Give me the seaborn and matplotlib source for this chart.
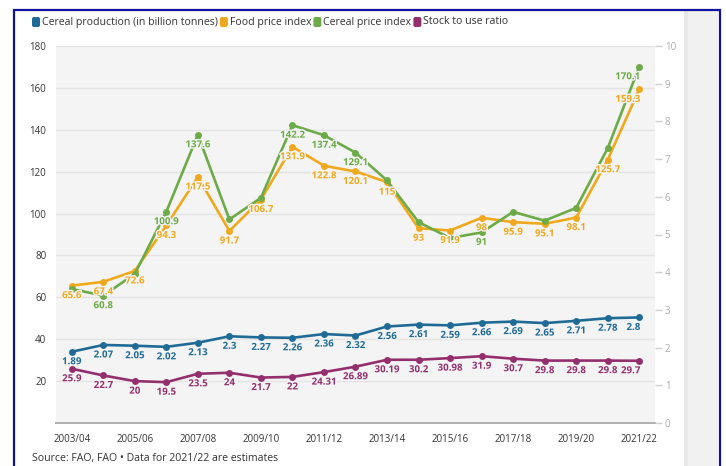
import numpy as np
import pandas as pd
import matplotlib
matplotlib.use("Agg")
import matplotlib.pyplot as plt
import seaborn as sns
from matplotlib.patches import Rectangle, FancyBboxPatch
from matplotlib.transforms import IdentityTransform
import matplotlib.patheffects as pe

seasons = ["2003/04", "2004/05", "2005/06", "2006/07", "2007/08", "2008/09",
           "2009/10", "2010/11", "2011/12", "2012/13", "2013/14", "2014/15",
           "2015/16", "2016/17", "2017/18", "2018/19", "2019/20", "2020/21",
           "2021/22"]
production = [1.89, 2.07, 2.05, 2.02, 2.13, 2.3, 2.27, 2.26, 2.36, 2.32,
              2.56, 2.61, 2.59, 2.66, 2.69, 2.65, 2.71, 2.78, 2.8]
food_index = [65.6, 67.4, 72.6, 94.3, 117.5, 91.7, 106.7, 131.9, 122.8, 120.1,
              115, 93, 91.9, 98, 95.9, 95.1, 98.1, 125.7, 159.3]
cereal_index = [64.0, 60.8, 71.2, 100.9, 137.6, 97.2, 107.5, 142.2, 137.4, 129.1,
                115.8, 95.9, 88.3, 91, 100.8, 96.6, 102.7, 131.2, 170.1]
stock_ratio = [25.9, 22.7, 20, 19.5, 23.5, 24, 21.7, 22, 24.31, 26.89,
               30.19, 30.2, 30.98, 31.9, 30.7, 29.8, 29.8, 29.8, 29.7]
cereal_labelled = [1, 3, 4, 7, 8, 9, 13, 18]
legend_names = ["Cereal production (in billion tonnes)", "Food price index",
                "Cereal price index", "Stock to use ratio"]
source_text = "Source: FAO, FAO \u2022 Data for 2021/22 are estimates"

BLUE = "#1f6b96"
ORANGE = "#f0a91c"
GREEN = "#6cab48"
PURPLE = "#942f6e"

sns.set_style("white")
plt.rcParams["font.family"] = ["Open Sans", "DejaVu Sans"]

W, H = 726, 466
fig = plt.figure(figsize=(W / 100, H / 100), dpi=100)
fig.patch.set_facecolor("white")

# right grey band and frame
fig.patches.append(Rectangle((684, 0), 34, H - 11, transform=IdentityTransform(),
                             facecolor="#f1f1f1", edgecolor="none", zorder=0))
fig.patches.append(Rectangle((684, 0), 4, H - 11, transform=IdentityTransform(),
                             facecolor="#e8e8e8", edgecolor="none", zorder=0))
fig.patches.append(Rectangle((14, -10), 706, H - 10 + 10, transform=IdentityTransform(),
                             facecolor="none", edgecolor="#12129c", linewidth=1.6, zorder=5))

L, R, T, B = 56, 655, 46, 423
ax = fig.add_axes([L / W, 1 - B / H, (R - L) / W, (B - T) / H])
ax.set_facecolor("#f4f4f4")

x = np.arange(len(seasons))
df = pd.DataFrame({"idx": x, "season": seasons, "production": production,
                   "food": food_index, "cereal": cereal_index, "stock": stock_ratio})

line_kw = dict(linewidth=1.9, marker="o", markersize=5, markeredgewidth=0)
sns.lineplot(data=df, x="idx", y="stock", ax=ax, color=PURPLE, **line_kw)
sns.lineplot(data=df, x="idx", y="food", ax=ax, color=ORANGE, **line_kw)
sns.lineplot(data=df, x="idx", y="cereal", ax=ax, color=GREEN, **line_kw)

ax.set_xlim(-0.5, 18.5)
ax.set_ylim(0, 180)
ax.set_yticks(np.arange(20, 181, 20))
ax.grid(axis="y", color="#e4e4e4", linewidth=1)
ax.set_axisbelow(True)
ax.set_xticks(x)
ax.set_xticklabels([s if i % 2 == 0 else "" for i, s in enumerate(seasons)])
ax.set_xlabel("")
ax.set_ylabel("")
for s in ["top", "right", "left"]:
    ax.spines[s].set_visible(False)
ax.spines["bottom"].set_color("#b0b0b0")
ax.spines["bottom"].set_linewidth(1.4)
ax.tick_params(axis="x", length=5, width=1, color="#a0a0a0", labelsize=7,
               labelcolor="#333333", pad=3)
ax.tick_params(axis="y", length=0, labelsize=7, labelcolor="#333333", pad=7)

ax2 = ax.twinx()
sns.lineplot(data=df, x="idx", y="production", ax=ax2, color=BLUE, **line_kw)
ax2.set_ylim(0, 10)
ax2.set_yticks(np.arange(0, 11, 1))
ax2.set_ylabel("")
for s in ["top", "right", "left", "bottom"]:
    ax2.spines[s].set_visible(False)
ax2.tick_params(axis="y", length=5, width=1, color="#d0d0d0", labelsize=7,
                labelcolor="#aaaaaa", pad=2)
ax2.set_xlim(-0.5, 18.5)

halo = [pe.withStroke(linewidth=2, foreground="#f4f4f4")]


def label(axis, i, v, color):
    last = i == len(seasons) - 1
    axis.annotate(f"{v:g}", (i, v), xytext=(1 if last else 0, -10),
                  textcoords="offset pixels",
                  ha="right" if last else "center", va="center", fontsize=7,
                  fontweight="bold", color=color, path_effects=halo, zorder=6)


for i, v in enumerate(food_index):
    label(ax, i, v, ORANGE)
for i in cereal_labelled:
    label(ax, i, cereal_index[i], GREEN)
for i, v in enumerate(stock_ratio):
    label(ax, i, v, PURPLE)
for i, v in enumerate(production):
    label(ax2, i, v, BLUE)

# legend
renderer = fig.canvas.get_renderer()
xpos = 32
for name, col in zip(legend_names, [BLUE, ORANGE, GREEN, PURPLE]):
    fig.patches.append(FancyBboxPatch((xpos, H - 27), 8, 10,
                                      boxstyle="round,pad=0,rounding_size=2",
                                      transform=IdentityTransform(),
                                      facecolor=col, edgecolor="none", zorder=3))
    t = fig.text((xpos + 10) / W, 1 - 22 / H, name, fontsize=7.6, va="center",
                 ha="left", color="#333333")
    bb = t.get_window_extent(renderer)
    xpos = bb.x1 + 2

fig.text(32 / W, 1 - 459 / H, source_text, fontsize=7.6, va="center", ha="left",
         color="#333333")

fig.savefig("out.png", dpi=100)
